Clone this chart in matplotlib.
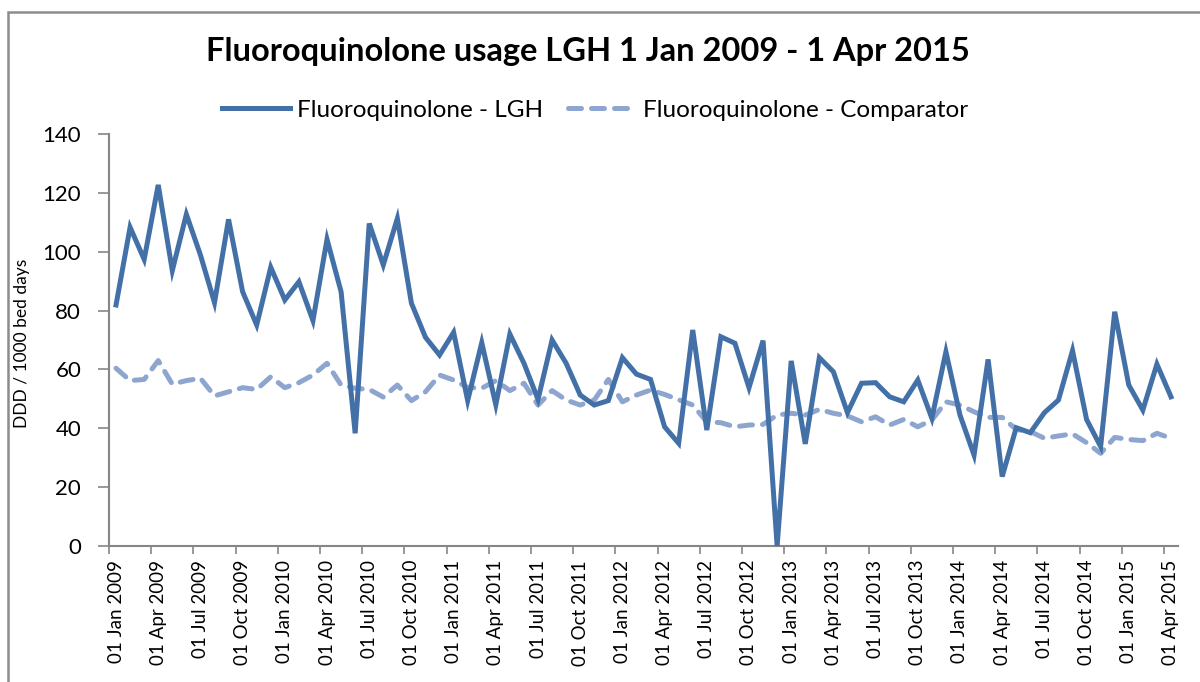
import matplotlib
matplotlib.use("Agg")
import matplotlib.pyplot as plt
from matplotlib.patches import Rectangle

plt.rcParams['font.family'] = ['Lato', 'DejaVu Sans']

title = "Fluoroquinolone usage LGH 1 Jan 2009 - 1 Apr 2015"
series_names = ["Fluoroquinolone - LGH", "Fluoroquinolone - Comparator"]
y_label = "DDD / 1000 bed days"

# Monthly values Jan 2009 .. Apr 2015 (76 months)
lgh = [81.9, 108.3, 97.4, 122.7, 93.6, 112.7, 98.9, 82.7, 111.0, 86.4,
       75.1, 94.7, 83.6, 89.8, 76.6, 104.2, 86.4, 38.3, 109.6, 95.5,
       111.3, 82.5, 70.9, 64.9, 72.6, 49.4, 69.1, 48.0, 72.0, 62.1,
       49.8, 70.0, 62.1, 51.3, 47.9, 49.4, 64.0, 58.4, 56.6, 40.5,
       34.9, 73.4, 39.4, 71.1, 68.9, 53.8, 69.8, 0.0, 62.9, 34.7,
       64.0, 59.2, 45.3, 55.3, 55.5, 50.7, 49.0, 56.4, 43.4, 66.0,
       44.5, 30.9, 63.4, 23.6, 40.2, 38.5, 45.3, 49.6, 66.4, 43.0,
       33.8, 79.6, 54.7, 46.2, 61.8, 50.7]
comparator = [60.4, 56.2, 56.6, 63.0, 55.0, 56.2, 57.0, 51.0, 52.4, 53.8,
              53.2, 57.5, 53.8, 55.5, 58.1, 62.1, 54.7, 53.6, 53.2, 50.6,
              54.7, 49.4, 52.4, 58.1, 56.4, 53.9, 53.6, 56.2, 52.8, 55.3,
              47.9, 52.8, 49.6, 47.9, 49.6, 56.6, 49.0, 51.3, 53.0, 51.5,
              49.7, 47.9, 42.2, 41.9, 40.5, 41.1, 41.3, 44.5, 45.1, 44.5,
              46.4, 45.1, 44.2, 42.2, 43.9, 41.1, 43.0, 40.5, 42.8, 49.0,
              47.9, 45.6, 43.7, 43.7, 39.6, 38.9, 36.6, 37.4, 38.1, 35.1,
              31.5, 36.9, 36.2, 35.8, 38.3, 36.6]

tick_labels = ["01 Jan 2009", "01 Apr 2009", "01 Jul 2009", "01 Oct 2009",
               "01 Jan 2010", "01 Apr 2010", "01 Jul 2010", "01 Oct 2010",
               "01 Jan 2011", "01 Apr 2011", "01 Jul 2011", "01 Oct 2011",
               "01 Jan 2012", "01 Apr 2012", "01 Jul 2012", "01 Oct 2012",
               "01 Jan 2013", "01 Apr 2013", "01 Jul 2013", "01 Oct 2013",
               "01 Jan 2014", "01 Apr 2014", "01 Jul 2014", "01 Oct 2014",
               "01 Jan 2015", "01 Apr 2015"]

c_lgh = "#4470a8"
c_cmp = "#8ea6cf"
c_axis = "#868686"

fig = plt.figure(figsize=(12, 6.82), dpi=100)
ax = fig.add_axes([109/1200, 1-546/682, (1178-109)/1200, (546-134)/682])

x = list(range(len(lgh)))
ax.plot(x, lgh, color=c_lgh, lw=3.6, solid_joinstyle='miter', label=series_names[0], zorder=3)
ax.plot(x, comparator, color=c_cmp, lw=3.6, dashes=(2.6, 2.0), dash_capstyle='round',
        label=series_names[1], zorder=2)

ax.set_xlim(-0.5, len(lgh) - 0.5)
ax.set_ylim(0, 140)
ax.set_yticks(range(0, 141, 20))
ax.tick_params(axis='y', labelsize=16, length=8, width=1.2, color=c_axis, pad=12)

ax.set_xticks(list(range(0, len(lgh), 3)))
ax.set_xticklabels(tick_labels, rotation=90, fontsize=13.5)
ax.set_xticks([k - 0.5 for k in range(0, len(lgh), 3)], minor=True)
ax.tick_params(axis='x', which='major', length=0, pad=10)
ax.tick_params(axis='x', which='minor', length=6, width=1.2, color=c_axis)

for s in ['top', 'right']:
    ax.spines[s].set_visible(False)
for s in ['left', 'bottom']:
    ax.spines[s].set_color(c_axis)
    ax.spines[s].set_linewidth(1.5)

fig.text(22/1200, 1-343/682, y_label, rotation=90, ha='center', va='center', fontsize=12.5)
fig.text(588/1200, 1-52/682, title, ha='center', va='center', fontsize=23.5, fontweight='bold')

handles, labels = ax.get_legend_handles_labels()
fig.legend(handles, labels, loc='center', bbox_to_anchor=(595/1200, 1-110/682), ncol=2,
           frameon=False, fontsize=17.5, handlelength=2.8, columnspacing=1.0, handletextpad=0.3)

fig.patches.append(Rectangle((8/1200, -0.2), 1.5, 1.2 - 12/682, transform=fig.transFigure,
                             fill=False, edgecolor='#8c8c8c', lw=1.8, zorder=0))

fig.savefig("out.png", dpi=100, facecolor='white')
